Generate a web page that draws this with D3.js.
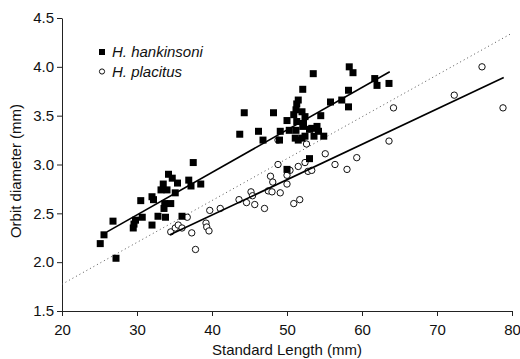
<!DOCTYPE html>
<html>
<head>
<meta charset="utf-8">
<script src="https://cdn.jsdelivr.net/npm/d3@7"></script>
<style>
  body { margin: 0; background: #fff; }
  svg { display: block; font-family: "Liberation Sans", Arial, sans-serif; }
</style>
</head>
<body>
<svg id="chart" width="520" height="359"></svg>
<script>
// H. hankinsoni: [standard length, orbit diameter]
const hankinsoni = [
  [25.1, 2.19], [25.6, 2.28], [27.2, 2.04], [26.8, 2.42], [29.5, 2.35], [29.6, 2.39],
  [29.8, 2.43], [30.5, 2.63], [30.7, 2.46], [32.0, 2.38], [32.0, 2.67], [32.2, 2.64],
  [32.8, 2.47], [33.2, 2.74], [33.5, 2.80], [33.6, 2.55], [33.7, 2.60], [33.8, 2.46],
  [34.0, 2.74], [34.2, 2.90], [34.5, 2.60], [34.7, 2.86], [35.1, 2.71], [35.4, 2.81],
  [36.0, 2.47], [36.9, 2.84], [37.2, 2.78], [37.5, 3.02], [38.5, 2.80],
  [43.7, 3.31], [44.3, 3.53], [46.2, 3.34], [46.8, 3.25], [48.2, 3.53], [49.0, 3.25],
  [49.1, 3.34], [50.0, 3.45], [50.0, 2.95], [50.3, 3.35], [50.9, 3.51], [51.1, 3.27],
  [51.2, 3.35], [51.2, 3.56], [51.3, 3.44], [51.3, 3.62], [51.5, 3.66], [51.5, 3.25],
  [52.0, 3.54], [52.0, 3.27], [52.1, 3.39], [52.1, 3.77], [52.2, 3.42], [52.4, 3.49],
  [52.4, 3.29], [53.0, 3.06], [53.0, 3.36], [53.3, 3.37], [53.5, 3.93], [53.6, 3.29],
  [54.0, 3.39], [54.2, 3.34], [54.5, 3.50], [54.9, 3.29], [55.8, 3.64], [57.3, 3.66],
  [58.2, 3.59], [58.2, 3.76], [58.3, 4.00], [58.8, 3.94], [61.7, 3.88], [62.0, 3.81],
  [63.6, 3.83]
];

// H. placitus: [standard length, orbit diameter]
const placitus = [
  [34.5, 2.31], [35.1, 2.35], [35.5, 2.38], [36.0, 2.35], [36.7, 2.46], [37.3, 2.30],
  [37.8, 2.13], [39.2, 2.40], [39.3, 2.36], [39.6, 2.32], [39.7, 2.53], [41.1, 2.55],
  [43.6, 2.64], [44.6, 2.61], [45.2, 2.72], [45.4, 2.68], [45.7, 2.59], [47.0, 2.55],
  [47.5, 2.73], [47.8, 2.88], [48.1, 2.82], [48.0, 2.72], [48.8, 3.00], [48.8, 3.25],
  [49.1, 2.71], [50.0, 2.80], [50.0, 2.89], [50.4, 2.94], [50.9, 2.60], [51.5, 2.98],
  [51.7, 2.64], [52.4, 3.02], [52.6, 3.21], [52.8, 2.93], [53.3, 2.94], [55.1, 3.11],
  [56.4, 3.00], [58.0, 2.95], [59.3, 3.07], [63.6, 3.24], [64.2, 3.58], [72.3, 3.71],
  [76.0, 4.00], [78.8, 3.58]
];

// fitted lines (endpoints) and the dotted reference line
const hankinsoniFit = [[26.0, 2.31], [63.7, 3.95]];
const placitusFit = [[34.4, 2.28], [78.9, 3.89]];
const referenceLine = [[20, 1.774], [80, 4.345]];

const xTicks = [20, 30, 40, 50, 60, 70, 80];
const yTicks = [1.5, 2.0, 2.5, 3.0, 3.5, 4.0, 4.5];

const svg = d3.select('#chart');
const margin = { left: 62, right: 8, top: 18, bottom: 48 };
const width = 520, height = 359;

const xScale = d3.scaleLinear().domain([20, 80]).range([margin.left, width - margin.right]);
const yScale = d3.scaleLinear().domain([1.5, 4.5]).range([height - margin.bottom, margin.top]);

// axes
const xAxis = d3.axisBottom(xScale).tickValues(xTicks).tickFormat(d3.format('d')).tickSize(5).tickSizeOuter(0);
const yAxis = d3.axisLeft(yScale).tickValues(yTicks).tickFormat(d3.format('.1f')).tickSize(5).tickSizeOuter(0);

const gx = svg.append('g')
  .attr('transform', `translate(0,${yScale(1.5)})`)
  .call(xAxis);
const gy = svg.append('g')
  .attr('transform', `translate(${xScale(20)},0)`)
  .call(yAxis);

[gx, gy].forEach(g => {
  g.selectAll('.domain').attr('stroke', '#222').attr('stroke-width', 1);
  g.selectAll('.tick line').attr('stroke', '#222');
  g.selectAll('.tick text').attr('fill', '#111').style('font-size', '15px').style('font-family', '"Liberation Sans", Arial, sans-serif');
});
gx.selectAll('.tick text').attr('dy', '1.05em');
gy.selectAll('.tick text').attr('x', -8);

svg.append('text')
  .attr('x', (xScale(20) + xScale(80)) / 2)
  .attr('y', 355)
  .attr('text-anchor', 'middle')
  .style('font-size', '15px')
  .attr('fill', '#111')
  .text('Standard Length (mm)');

svg.append('text')
  .attr('transform', 'translate(21,171) rotate(-90)')
  .attr('text-anchor', 'middle')
  .style('font-size', '15px')
  .attr('fill', '#111')
  .text('Orbit diameter (mm)');

const line = d3.line().x(d => xScale(d[0])).y(d => yScale(d[1]));

svg.append('path')
  .attr('d', line(referenceLine))
  .attr('fill', 'none')
  .attr('stroke', '#555')
  .attr('stroke-width', 1)
  .attr('stroke-dasharray', '1,3');

// circles first so the squares sit on top
svg.append('g')
  .selectAll('circle')
  .data(placitus)
  .enter()
  .append('circle')
  .attr('cx', d => xScale(d[0]))
  .attr('cy', d => yScale(d[1]))
  .attr('r', 3.2)
  .attr('fill', '#fff')
  .attr('stroke', '#111')
  .attr('stroke-width', 1);

const sq = 7;
svg.append('g')
  .selectAll('rect')
  .data(hankinsoni)
  .enter()
  .append('rect')
  .attr('x', d => xScale(d[0]) - sq / 2)
  .attr('y', d => yScale(d[1]) - sq / 2)
  .attr('width', sq)
  .attr('height', sq)
  .attr('fill', '#000');

[hankinsoniFit, placitusFit].forEach(fit => {
  svg.append('path')
    .attr('d', line(fit))
    .attr('fill', 'none')
    .attr('stroke', '#000')
    .attr('stroke-width', 1.6);
});

// legend
const legend = svg.append('g');
legend.append('rect')
  .attr('x', 99).attr('y', 49).attr('width', 6).attr('height', 6)
  .attr('fill', '#000');
legend.append('text')
  .attr('x', 112).attr('y', 57)
  .style('font-size', '15px').style('font-style', 'italic')
  .attr('fill', '#111')
  .text('H. hankinsoni');
legend.append('circle')
  .attr('cx', 102).attr('cy', 71.5).attr('r', 2.6)
  .attr('fill', '#fff').attr('stroke', '#111');
legend.append('text')
  .attr('x', 112).attr('y', 77)
  .style('font-size', '15px').style('font-style', 'italic')
  .attr('fill', '#111')
  .text('H. placitus');
</script>
</body>
</html>
